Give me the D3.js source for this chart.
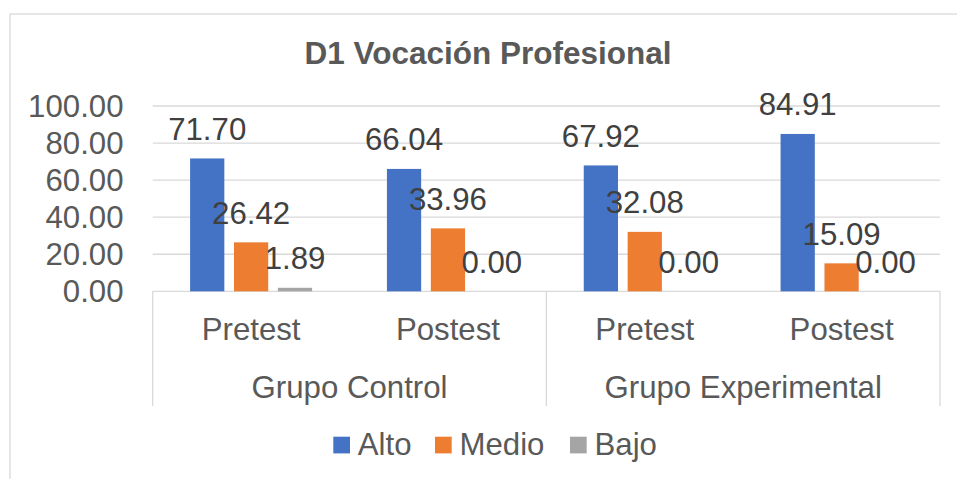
<!DOCTYPE html>
<html>
<head>
<meta charset="utf-8">
<script src="https://cdn.jsdelivr.net/npm/d3@7"></script>
<style>
  body { margin: 0; background: #fff; }
  svg { display: block; font-family: "Liberation Sans", Arial, sans-serif; }
</style>
</head>
<body>
<script>
var groups = ['Grupo Control', 'Grupo Experimental'];
var phases = ['Pretest', 'Postest'];
var series = ['Alto', 'Medio', 'Bajo'];
var alto = [71.70, 66.04, 67.92, 84.91];
var medio = [26.42, 33.96, 32.08, 15.09];
var bajo = [1.89, 0.00, 0.00, 0.00];
var yTicks = [0, 20, 40, 60, 80, 100];
var colors = ['#4472C4', '#ED7D31', '#A5A5A5'];

var width = 957;
var height = 479;
var fs = 31.2;

var plot = { left: 152.7, right: 940, top: 106, bottom: 291.3 };

var svg = d3.select('body').append('svg')
    .attr('width', width)
    .attr('height', height);

// outer chart border
svg.append('rect')
    .attr('x', 10).attr('y', 14)
    .attr('width', 960).attr('height', 480)
    .attr('fill', 'none')
    .attr('stroke', '#d9d9d9')
    .attr('stroke-width', 1.3);

var rows = [];
groups.forEach(function (g, gi) {
    phases.forEach(function (p, pi) {
        var i = gi * phases.length + pi;
        rows.push({ group: g, phase: p, values: [alto[i], medio[i], bajo[i]] });
    });
});

var x0 = d3.scaleBand()
    .domain(groups)
    .range([plot.left, plot.right]);

var xPhase = d3.scaleBand()
    .domain(phases)
    .range([0, x0.bandwidth()]);

var catW = xPhase.bandwidth();
var xSeries = d3.scaleBand()
    .domain(series)
    .range([37.4, catW - 37.4])
    .paddingInner(0.22);

var y = d3.scaleLinear()
    .domain([0, 100])
    .range([plot.bottom, plot.top]);

// gridlines
svg.append('g')
    .selectAll('line')
    .data(yTicks)
    .join('line')
    .attr('x1', plot.left)
    .attr('x2', plot.right)
    .attr('y1', function (d) { return y(d); })
    .attr('y2', function (d) { return y(d); })
    .attr('stroke', '#d9d9d9')
    .attr('stroke-width', 1.3);

// y tick labels
svg.append('g')
    .selectAll('text')
    .data(yTicks)
    .join('text')
    .attr('x', 123.5)
    .attr('y', function (d) { return y(d); })
    .attr('dy', '0.35em')
    .attr('text-anchor', 'end')
    .attr('font-size', fs)
    .attr('fill', '#595959')
    .text(function (d) { return d3.format('.2f')(d); });

// category box lines
var axisG = svg.append('g')
    .attr('stroke', '#d9d9d9')
    .attr('stroke-width', 1.3);
var seps = groups.map(function (g) { return x0(g); }).concat([plot.right]);
axisG.selectAll('line')
    .data(seps)
    .join('line')
    .attr('x1', function (d) { return d; })
    .attr('x2', function (d) { return d; })
    .attr('y1', plot.bottom)
    .attr('y2', 406);

// bars
var cat = svg.append('g')
    .selectAll('g')
    .data(rows)
    .join('g')
    .attr('transform', function (d) {
        return 'translate(' + (x0(d.group) + xPhase(d.phase)) + ',0)';
    });

cat.selectAll('rect')
    .data(function (d) { return d.values; })
    .join('rect')
    .attr('x', function (d, i) { return xSeries(series[i]); })
    .attr('y', function (d) { return y(d); })
    .attr('width', xSeries.bandwidth())
    .attr('height', function (d) { return y(0) - y(d); })
    .attr('fill', function (d, i) { return colors[i]; });

cat.selectAll('text')
    .data(function (d) { return d.values; })
    .join('text')
    .attr('x', function (d, i) { return xSeries(series[i]) + xSeries.bandwidth() / 2; })
    .attr('y', function (d) { return y(d) - 18.5; })
    .attr('text-anchor', 'middle')
    .attr('font-size', fs)
    .attr('fill', '#404040')
    .text(function (d) { return d3.format('.2f')(d); });

// phase labels
svg.append('g')
    .selectAll('text')
    .data(rows)
    .join('text')
    .attr('x', function (d) { return x0(d.group) + xPhase(d.phase) + catW / 2; })
    .attr('y', 340)
    .attr('text-anchor', 'middle')
    .attr('font-size', fs)
    .attr('fill', '#595959')
    .text(function (d) { return d.phase; });

// group labels
svg.append('g')
    .selectAll('text')
    .data(groups)
    .join('text')
    .attr('x', function (d) { return x0(d) + x0.bandwidth() / 2; })
    .attr('y', 398)
    .attr('text-anchor', 'middle')
    .attr('font-size', fs)
    .attr('fill', '#595959')
    .text(function (d) { return d; });

// title
svg.append('text')
    .attr('x', 488)
    .attr('y', 64)
    .attr('text-anchor', 'middle')
    .attr('font-size', 31.5)
    .attr('font-weight', 'bold')
    .attr('fill', '#595959')
    .text('D1 Vocación Profesional');

// legend
var legendX = [333.3, 435, 570];
var leg = svg.append('g')
    .selectAll('g')
    .data(series)
    .join('g')
    .attr('transform', function (d, i) { return 'translate(' + legendX[i] + ',0)'; });

leg.append('rect')
    .attr('x', 0)
    .attr('y', 436.7)
    .attr('width', 16.7)
    .attr('height', 16.7)
    .attr('fill', function (d, i) { return colors[i]; });

leg.append('text')
    .attr('x', 24.5)
    .attr('y', 455)
    .attr('font-size', fs)
    .attr('fill', '#595959')
    .text(function (d) { return d; });
</script>
</body>
</html>
